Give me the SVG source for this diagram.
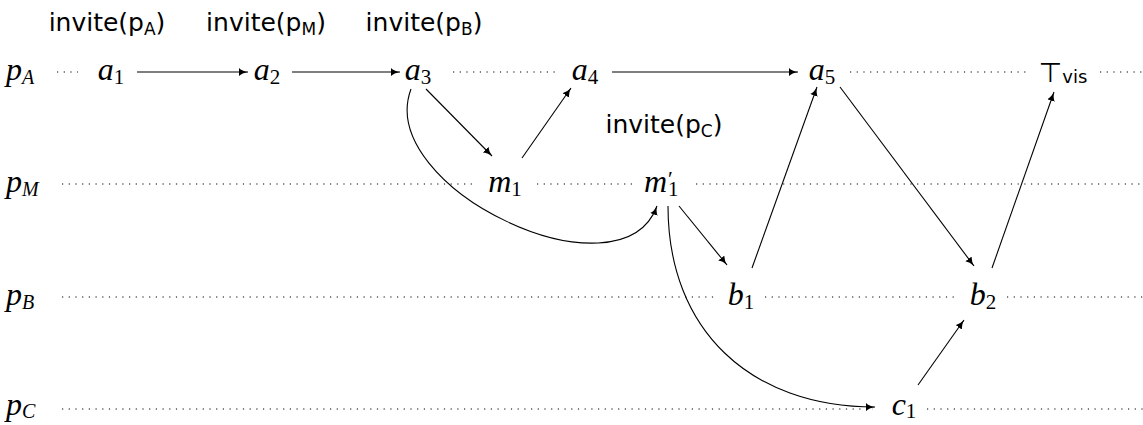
<svg xmlns="http://www.w3.org/2000/svg" width="1143" height="425" viewBox="0 0 1143 425">
<style>
.m{font-family:"Liberation Serif","DejaVu Serif",serif;font-style:italic;font-size:32px;fill:#000}
.s{font-size:21px;font-style:normal}
.si{font-size:20px;font-style:italic}
.sf{font-family:"DejaVu Sans","Liberation Sans",sans-serif;font-size:25px;fill:#000}
.ss{font-size:17px}
.dot{stroke:#000;stroke-width:1.2;stroke-dasharray:1.2 5.5;fill:none}
.arr{stroke:#000;stroke-width:1.1;fill:none;marker-end:url(#ah)}
</style>
<defs>
<marker id="ah" markerUnits="userSpaceOnUse" markerWidth="12" markerHeight="10" refX="9" refY="4" orient="auto">
<path d="M0,0 Q3,3 9,4 Q3,5 0,8 Z" fill="#000"/>
</marker>
</defs>
<rect width="1143" height="425" fill="#fff"/>
<g id="lifelines">
<line class="dot" x1="57" y1="72" x2="78" y2="72"/>
<line class="dot" x1="453" y1="72" x2="557" y2="72"/>
<line class="dot" x1="850" y1="72" x2="1028" y2="72"/>
<line class="dot" x1="1100" y1="72" x2="1143" y2="72"/>
<line class="dot" x1="62" y1="184" x2="472" y2="184"/>
<line class="dot" x1="537" y1="184" x2="632" y2="184"/>
<line class="dot" x1="696" y1="184" x2="1143" y2="184"/>
<line class="dot" x1="62" y1="297" x2="718" y2="297"/>
<line class="dot" x1="765" y1="297" x2="958" y2="297"/>
<line class="dot" x1="1007" y1="297" x2="1143" y2="297"/>
<line class="dot" x1="62" y1="409" x2="873" y2="409"/>
<line class="dot" x1="927" y1="409" x2="1143" y2="409"/>
</g>
<g id="process-labels">
<text class="m" x="6" y="80">p<tspan class="si" dy="4">A</tspan></text>
<text class="m" x="6" y="192">p<tspan class="si" dy="4">M</tspan></text>
<text class="m" x="6" y="305">p<tspan class="si" dy="4">B</tspan></text>
<text class="m" x="6" y="415">p<tspan class="si" dy="3">C</tspan></text>
</g>
<g id="invite-labels">
<text class="sf" x="107" y="31" text-anchor="middle">invite(p<tspan class="ss" dy="4">A</tspan><tspan dy="-4">)</tspan></text>
<text class="sf" x="266" y="31" text-anchor="middle">invite(p<tspan class="ss" dy="4">M</tspan><tspan dy="-4">)</tspan></text>
<text class="sf" x="424" y="31" text-anchor="middle">invite(p<tspan class="ss" dy="4">B</tspan><tspan dy="-4">)</tspan></text>
<text class="sf" x="664" y="133" text-anchor="middle">invite(p<tspan class="ss" dy="4">C</tspan><tspan dy="-4">)</tspan></text>
</g>
<g id="a1"><text class="m" x="111" y="80" text-anchor="middle">a<tspan class="s" dy="4">1</tspan></text></g>
<g id="a2"><text class="m" x="267" y="80" text-anchor="middle">a<tspan class="s" dy="4">2</tspan></text></g>
<g id="a3"><text class="m" x="418" y="80" text-anchor="middle">a<tspan class="s" dy="4">3</tspan></text></g>
<g id="a4"><text class="m" x="585" y="80" text-anchor="middle">a<tspan class="s" dy="4">4</tspan></text></g>
<g id="a5"><text class="m" x="822" y="80" text-anchor="middle">a<tspan class="s" dy="4">5</tspan></text></g>
<g id="top-vis"><text x="1063" y="82" text-anchor="middle" font-family="DejaVu Sans, sans-serif" font-size="27">⊤<tspan font-size="18" dy="1">vis</tspan></text></g>
<g id="m1"><text class="m" x="505" y="192" text-anchor="middle">m<tspan class="s" dy="4">1</tspan></text></g>
<g id="m1p"><text class="m" x="644" y="192">m<tspan font-size="22" style="font-style:normal" dx="1" dy="-6">′</tspan><tspan class="s" x="668" dy="10">1</tspan></text></g>
<g id="b1"><text class="m" x="741" y="305" text-anchor="middle">b<tspan class="s" dy="4">1</tspan></text></g>
<g id="b2"><text class="m" x="983" y="305" text-anchor="middle">b<tspan class="s" dy="4">2</tspan></text></g>
<g id="c1"><text class="m" x="904" y="415" text-anchor="middle">c<tspan class="s" dy="3">1</tspan></text></g>
<g id="connectors">
<path class="arr" d="M137,72 L248,72"/>
<path class="arr" d="M292,72 L400,72"/>
<path class="arr" d="M612,72 L798,72"/>
<path class="arr" d="M426,89 L492,156"/>
<path class="arr" d="M522,158 L571,88"/>
<path class="arr" d="M411,89 C374,188 621,304 657,206"/>
<path class="arr" d="M679,206 L727,265"/>
<path class="arr" d="M668,206 C668,330 750,407 875,407"/>
<path class="arr" d="M752,268 L817,87"/>
<path class="arr" d="M840,87 L974,266"/>
<path class="arr" d="M992,268 L1054,92"/>
<path class="arr" d="M918,385 L964,320"/>
</g>
</svg>
